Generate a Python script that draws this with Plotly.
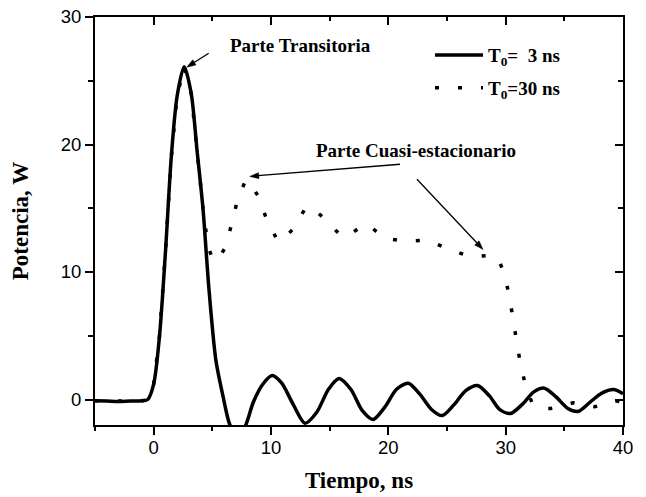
import math
import plotly.graph_objects as go

# ---- data ----
t_short = [-5, -4, -3, -2, -1, -0.5, 0, 0.5, 1.0, 1.5, 2.0, 2.6, 3.2, 3.7, 4.2, 4.7, 5.3, 5.9,
           6.5, 7.2, 7.85, 8.5, 9.3, 10.1, 10.9, 11.9, 12.9, 13.9, 14.9, 15.8, 16.8, 17.8,
           18.7, 19.7, 20.7, 21.7, 22.7, 23.7, 24.6, 25.6, 26.6, 27.6, 28.6, 29.5, 30.4,
           31.4, 32.4, 33.3, 34.3, 35.3, 36.2, 37.2, 38.2, 39.2, 40]
p_short = [-0.1, -0.12, -0.15, -0.12, -0.1, 0.0, 1.2, 5.0, 11.5, 19.0, 23.8, 26.1, 24.0, 19.5,
           15.0, 8.8, 3.1, 0.3, -2.0, -3.0, -2.0, -0.2, 1.2, 1.88, 1.3, -0.4, -1.86, -1.0,
           0.8, 1.65, 0.8, -0.9, -1.57, -0.6, 0.8, 1.28, 0.4, -0.8, -1.26, -0.4, 0.7, 1.1,
           0.3, -0.8, -1.1, -0.4, 0.6, 0.89, 0.2, -0.7, -0.92, -0.2, 0.5, 0.78, 0.45]

t_long = [-5, -4, -3, -2, -1, -0.5, 0, 0.5, 1.0, 1.5, 2.0, 2.6, 3.2, 3.7, 4.2, 4.6, 5.0, 5.4,
          6.1, 6.6, 7.05, 7.74, 8.1, 8.93, 9.6, 10.5, 10.9, 11.9, 12.97, 13.4, 14.56, 16.0,
          16.5, 17.9, 18.3, 19.65, 21.5, 23.35, 25.2, 26.99, 28.87, 29.4, 29.9, 30.3, 30.57,
          30.9, 31.2, 31.6, 32.25, 33.0, 33.85, 35.75, 37.6, 39.35, 40]
p_long = [-0.1, -0.12, -0.15, -0.12, -0.1, 0.0, 1.2, 5.0, 11.5, 19.0, 23.8, 26.1, 24.0, 19.5,
          15.0, 12.2, 11.0, 10.9, 11.9, 13.6, 15.3, 17.0, 17.2, 15.9, 14.2, 12.56, 12.4, 13.4,
          15.07, 15.1, 14.2, 12.8, 12.8, 13.7, 13.7, 12.66, 12.4, 12.5, 11.77, 11.2, 11.3,
          11.0, 9.8, 8.16, 6.46, 4.76, 3.1, 1.45, -0.3, -0.7, -0.7, -0.26, -0.57, -0.1, -0.2]

x_ticks = [0, 10, 20, 30, 40]
y_ticks = [0, 10, 20, 30]
x_range = [-5, 40]
y_range = [-2, 30]
legend_names = ["T<sub>0</sub>=\u00a0\u00a03 ns", "T<sub>0</sub>=30 ns"]

SERIF = "Liberation Serif"
SANS = "Liberation Sans"
W, H = 646, 497
M = dict(l=95, r=23, t=17, b=72)

fig = go.Figure()
fig.add_trace(go.Scatter(
    x=t_short, y=p_short, mode="lines", name=legend_names[0],
    line=dict(color="black", width=3.5, shape="spline", smoothing=0.8),
    legendgroup="a"))
fig.add_trace(go.Scatter(
    x=t_long, y=p_long, mode="lines", name=legend_names[1],
    line=dict(color="black", width=3.5, dash="4px,19px"),
    legendgroup="b"))
# carrier for the mirrored (inward) ticks on top/right axes
fig.add_trace(go.Scatter(x=t_long, y=p_long, xaxis="x2", yaxis="y2", mode="lines",
                         line=dict(width=0, color="rgba(0,0,0,0)"), showlegend=False,
                         hoverinfo="skip"))

axis_common = dict(showgrid=False, zeroline=False, linecolor="black",
                   tickcolor="black", tickwidth=2, automargin=False)

fig.update_layout(
    width=W, height=H,
    margin=M,
    paper_bgcolor="white", plot_bgcolor="white",
    showlegend=True,
    legend=dict(x=0.6345, y=0.953, xanchor="left", yanchor="top", itemwidth=48,
                bgcolor="rgba(0,0,0,0)", tracegroupgap=5,
                font=dict(family=SERIF, size=19, color="black", weight="bold")),
    xaxis=dict(range=x_range, tickvals=x_ticks, ticks="outside", ticklen=8,
               ticklabelstandoff=-3,
               minor=dict(dtick=5, tick0=0, ticks="outside", ticklen=4, tickcolor="black", tickwidth=2),
               tickfont=dict(family=SANS, size=18.5, color="black"),
               title=dict(text="Tiempo, ns", standoff=15,
                          font=dict(family=SERIF, size=23, color="black", weight="bold")),
               mirror=True, linewidth=2, **axis_common),
    yaxis=dict(range=y_range, tickvals=y_ticks, ticks="outside", ticklen=8,
               minor=dict(dtick=5, tick0=0, ticks="outside", ticklen=5, tickcolor="black", tickwidth=2),
               tickfont=dict(family=SANS, size=18.5, color="black"),
               title=dict(text="Potencia, W", standoff=26,
                          font=dict(family=SERIF, size=23, color="black", weight="bold")),
               mirror=True, linewidth=2, **axis_common),
    xaxis2=dict(range=x_range, overlaying="x", side="top", anchor="y", tickvals=x_ticks,
                ticks="inside", ticklen=8, showticklabels=False, showline=False,
                minor=dict(dtick=5, tick0=0, ticks="inside", ticklen=4, tickcolor="black", tickwidth=2),
                **axis_common),
    yaxis2=dict(range=y_range, overlaying="y", side="right", anchor="x", tickvals=y_ticks,
                ticks="inside", ticklen=8, showticklabels=False, showline=False,
                minor=dict(dtick=5, tick0=0, ticks="inside", ticklen=5, tickcolor="black", tickwidth=2),
                **axis_common),
)

ann_font = dict(family=SERIF, size=19, color="black", weight="bold")
fig.add_annotation(x=12.5, y=27.8, xref="x", yref="y", text="Parte Transitoria",
                   showarrow=False, font=ann_font)
fig.add_annotation(x=22.4, y=19.5, xref="x", yref="y", text="Parte Cuasi-estacionario",
                   showarrow=False, font=ann_font)

# arrows (tail -> tip) drawn as shapes: line + small filled head
kx = (W - M["l"] - M["r"]) / (x_range[1] - x_range[0])
ky = (H - M["t"] - M["b"]) / (y_range[1] - y_range[0])
arrows = [((4.69, 27.16), (2.82, 26.06)),
          ((21.0, 18.45), (8.19, 17.5)),
          ((22.44, 17.27), (28.07, 11.77))]
for (ax, ay), (tx, ty) in arrows:
    dxp, dyp = (tx - ax) * kx, (ty - ay) * ky
    L = math.hypot(dxp, dyp)
    ux, uy = dxp / L, dyp / L
    hl, hw = 9.0, 3.0
    bx, by = -ux * hl, -uy * hl
    p1 = (tx + (bx - uy * hw) / kx, ty + (by + ux * hw) / ky)
    p2 = (tx + (bx + uy * hw) / kx, ty + (by - ux * hw) / ky)
    fig.add_shape(type="line", x0=ax, y0=ay, x1=tx - ux * 5 / kx, y1=ty - uy * 5 / ky,
                  xref="x", yref="y", line=dict(color="black", width=1.3))
    fig.add_shape(type="path", xref="x", yref="y",
                  path=f"M{tx},{ty} L{p1[0]},{p1[1]} L{p2[0]},{p2[1]} Z",
                  fillcolor="black", line=dict(color="black", width=0.5))

fig.write_html("out.html")
